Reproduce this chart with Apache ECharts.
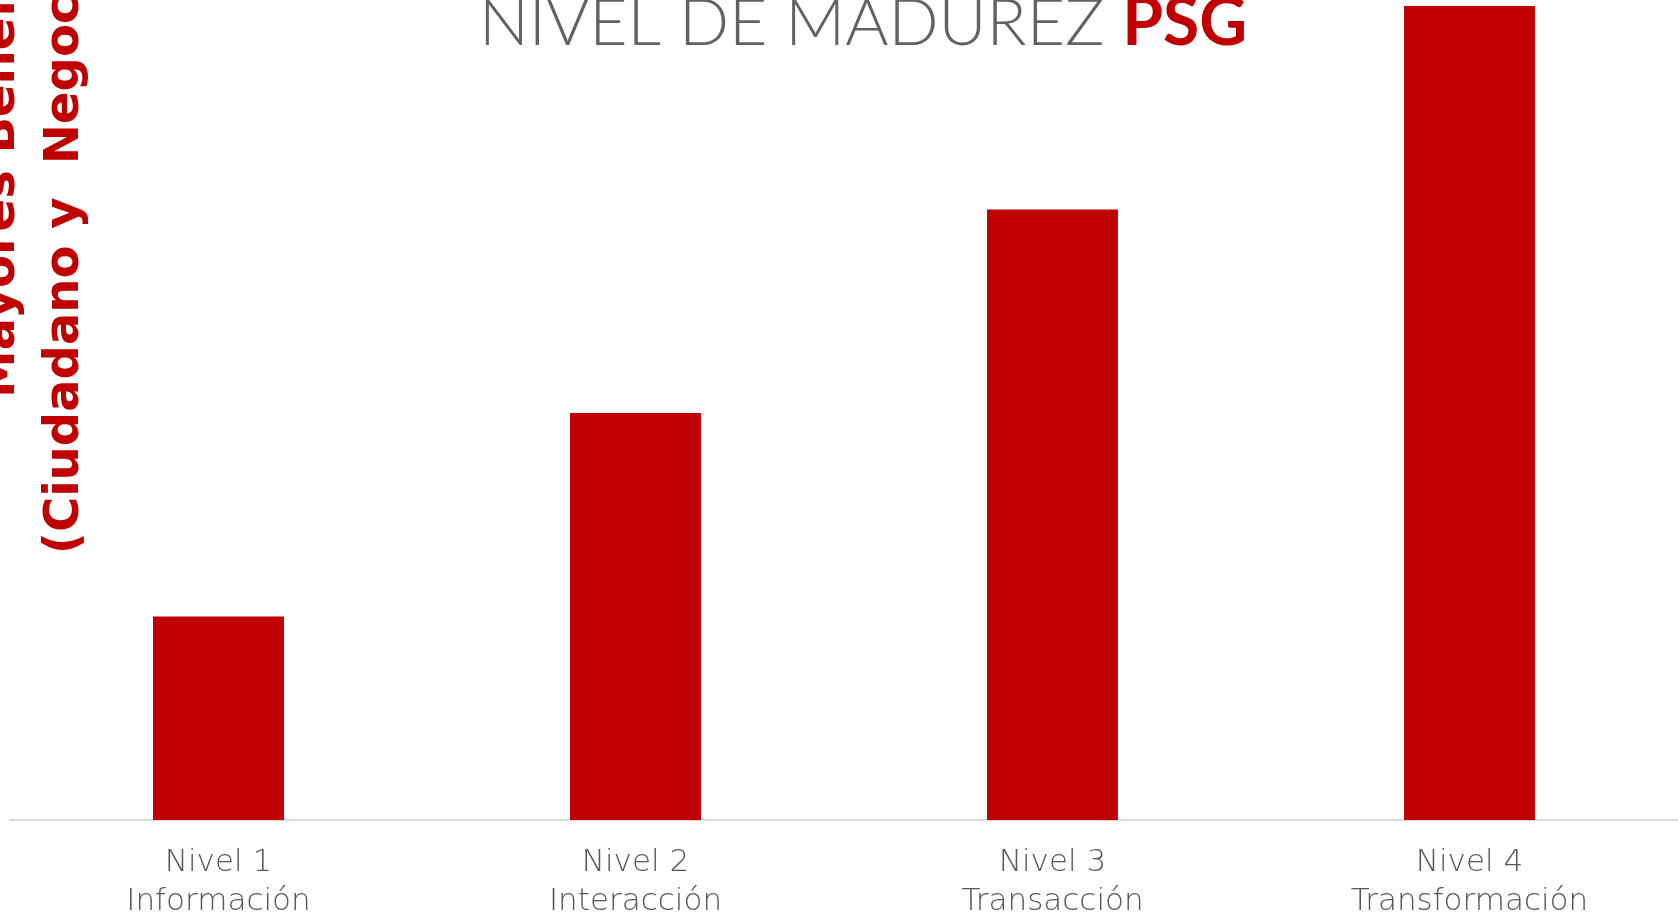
<!DOCTYPE html>
<html>
<head>
<meta charset="utf-8">
<title>Nivel de Madurez PSG</title>
<script src="https://cdn.jsdelivr.net/npm/echarts@6/dist/echarts.min.js"></script>
<style>
  html, body { margin: 0; padding: 0; background: #fff; }
  #chart { width: 1678px; height: 916px; }
</style>
</head>
<body>
<div id="chart"></div>
<script>
// niveles de madurez (eje x)
const categories = ['Nivel 1\nInformación', 'Nivel 2\nInteracción', 'Nivel 3\nTransacción', 'Nivel 4\nTransformación']
// beneficio relativo de cada nivel
const beneficios = [1, 2, 3, 4]
const yNameLines = ['Mayores Beneficios', '(Ciudadano y  Negocio)']

const rojo = '#C00000'
const gris = '#626262'

const chart = echarts.init(document.getElementById('chart'))

const option = {
  backgroundColor: '#fff',
  animation: false,
  title: {
    text: '{a|NIVEL DE MADUREZ }{b|PSG}',
    left: 474,
    top: -14,
    textStyle: {
      rich: {
        a: { fontFamily: 'Lato, Roboto, sans-serif', fontWeight: 300, fontSize: 66, color: gris },
        b: { fontFamily: 'Lato, Roboto, sans-serif', fontWeight: 'bold', fontSize: 66, color: rojo }
      }
    }
  },
  grid: { left: 10, right: 0, top: 6, bottom: 96, containLabel: false, outerBoundsMode: 'none' },
  xAxis: {
    type: 'category',
    data: categories,
    axisLine: { lineStyle: { color: '#d9d9d9', width: 2 } },
    axisTick: { show: false },
    axisLabel: {
      margin: 23,
      fontFamily: '"DejaVu Sans", sans-serif',
      fontWeight: 200,
      fontSize: 31,
      lineHeight: 39,
      color: '#575757'
    }
  },
  yAxis: {
    type: 'value',
    min: 0,
    max: 4,
    axisLine: { show: false },
    axisTick: { show: false },
    axisLabel: { show: false },
    splitLine: { show: false }
  },
  graphic: [
    {
      type: 'text',
      x: 2,
      y: 398,
      rotation: Math.PI / 2,
      style: {
        text: yNameLines[0],
        fill: rojo,
        font: 'bold 48px "DejaVu Sans", sans-serif',
        align: 'left',
        verticalAlign: 'middle'
      }
    },
    {
      type: 'text',
      x: 66,
      y: 554,
      rotation: Math.PI / 2,
      style: {
        text: yNameLines[1],
        fill: rojo,
        font: 'bold 48px "DejaVu Sans", sans-serif',
        align: 'left',
        verticalAlign: 'middle'
      }
    }
  ],
  series: [
    {
      type: 'bar',
      data: beneficios,
      barWidth: '31.4%',
      itemStyle: { color: rojo }
    }
  ]
}

chart.setOption(option)
</script>
</body>
</html>
